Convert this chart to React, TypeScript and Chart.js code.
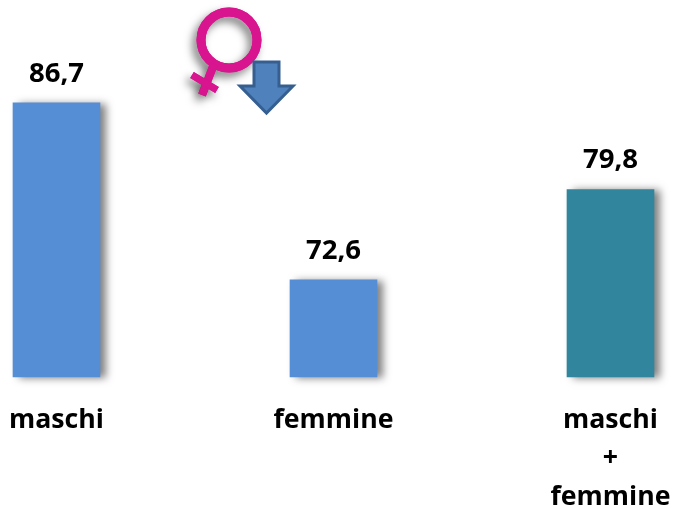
import React, { useEffect, useRef } from "react";
import { Chart, registerables, Plugin } from "chart.js";

Chart.register(...registerables);

const categories: (string | string[])[] = ["maschi", "femmine", ["maschi", "+", "femmine"]];
const values = [86.7, 72.6, 79.8];
const valueLabels = ["86,7", "72,6", "79,8"];
const barColors = ["#558ed5", "#558ed5", "#31859c"];
const axisMin = 64.87;
const axisMax = 92.5;

const FONT = "'Open Sans', Lato, sans-serif";

const shadowPlugin: Plugin = {
  id: "barShadow",
  beforeDatasetsDraw(chart) {
    const c = chart.ctx;
    c.save();
    c.shadowColor = "rgba(0,0,0,0.5)";
    c.shadowBlur = 8;
    c.shadowOffsetX = 6;
    c.shadowOffsetY = 1;
  },
  afterDatasetsDraw(chart) {
    chart.ctx.restore();
  },
};

const valuePlugin: Plugin = {
  id: "valueLabels",
  afterDatasetsDraw(chart) {
    const c = chart.ctx;
    const meta = chart.getDatasetMeta(0);
    c.save();
    c.font = `bold 27.5px ${FONT}`;
    c.fillStyle = "#000";
    c.textAlign = "center";
    c.textBaseline = "middle";
    meta.data.forEach((el: any, i: number) => {
      c.fillText(valueLabels[i], el.x, el.y - 29);
    });
    c.restore();
  },
};

const iconPlugin: Plugin = {
  id: "femaleIcon",
  afterDraw(chart) {
    const c = chart.ctx;
    c.save();
    const pink = "#d9148f";
    const symbol = () => {
      c.strokeStyle = pink;
      c.lineWidth = 9;
      c.beginPath();
      c.arc(229, 40, 28, 0, Math.PI * 2);
      c.stroke();
      c.lineWidth = 8;
      c.beginPath();
      c.moveTo(214, 64);
      c.lineTo(202, 95);
      c.stroke();
      c.lineWidth = 7;
      c.beginPath();
      c.moveTo(192, 75);
      c.lineTo(217, 90);
      c.stroke();
    };
    // soft shadow behind the symbol
    c.save();
    c.shadowColor = "rgba(0,0,0,0.5)";
    c.shadowBlur = 9;
    c.shadowOffsetX = -4;
    c.shadowOffsetY = 5;
    symbol();
    c.restore();
    symbol();

    // arrow
    c.fillStyle = "#4f81bd";
    c.strokeStyle = "#365f91";
    c.lineWidth = 3;
    c.lineJoin = "miter";
    c.beginPath();
    c.moveTo(254, 62);
    c.lineTo(279, 62);
    c.lineTo(279, 86);
    c.lineTo(293, 86);
    c.lineTo(266.5, 113);
    c.lineTo(240, 86);
    c.lineTo(254, 86);
    c.closePath();
    c.fill();
    c.stroke();
    c.restore();
  },
};

export default function App() {
  const ref = useRef<HTMLCanvasElement>(null);
  useEffect(() => {
    const chart = new Chart(ref.current!, {
      type: "bar",
      data: {
        labels: categories as any,
        datasets: [
          {
            data: values,
            base: axisMin,
            backgroundColor: barColors,
            barThickness: 87,
            borderWidth: 0,
            clip: false as any,
          } as any,
        ],
      },
      options: {
        responsive: false,
        animation: false,
        layout: { padding: { left: 56.5, right: 63.5, top: 30, bottom: 0 } },
        plugins: { legend: { display: false }, tooltip: { enabled: false } },
        scales: {
          y: { display: false, min: axisMin, max: axisMax },
          x: {
            offset: false,
            grid: { display: false },
            border: { display: false },
            afterFit(scale: any) {
              scale.height = 132;
              scale.paddingLeft = 0;
              scale.paddingRight = 0;
            },
            ticks: {
              autoSkip: false,
              maxRotation: 0,
              minRotation: 0,
              color: "#000",
              padding: 16,
              font: { family: FONT, weight: "bold", size: 26.7, lineHeight: 1.44 },
            },
          },
        },
      },
      plugins: [shadowPlugin, valuePlugin, iconPlugin],
    });
    return () => chart.destroy();
  }, []);
  return (
    <canvas
      ref={ref}
      width={674}
      height={509}
      style={{ position: "fixed", left: 0, top: 0, width: 674, height: 509, background: "#fff" }}
    />
  );
}
